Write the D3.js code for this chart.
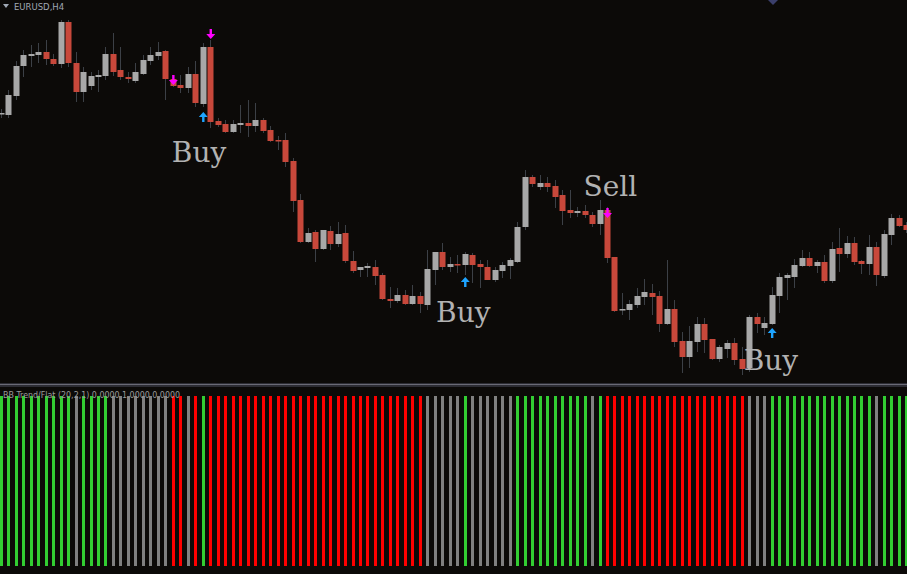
<!DOCTYPE html>
<html>
<head>
<meta charset="utf-8">
<script src="https://cdn.jsdelivr.net/npm/d3@7"></script>
<style>
  html, body { margin: 0; padding: 0; background: #0c0a08; }
  svg { display: block; }
</style>
</head>
<body>
<svg id="chart" width="907" height="574"></svg>
<script>
// EURUSD H4 candles, oldest first
var open = [1.1886,1.1885,1.1904,1.1934,1.1944,1.1945,1.1948,1.1941,1.1936,1.1978,
  1.1937,1.1908,1.1914,1.1923,1.1924,1.1946,1.1930,1.1923,1.1919,1.1926,
  1.1939,1.1944,1.1949,1.1921,1.1915,1.1912,1.1926,1.1896,1.1953,1.1879,
  1.1876,1.1868,1.1875,1.1877,1.1874,1.1880,1.1870,1.1860,1.1860,1.1839,
  1.1800,1.1758,1.1768,1.1751,1.1769,1.1756,1.1767,1.1739,1.1730,1.1732,
  1.1733,1.1725,1.1701,1.1699,1.1705,1.1696,1.1704,1.1695,1.1730,1.1748,
  1.1733,1.1736,1.1735,1.1745,1.1736,1.1733,1.1720,1.1729,1.1734,1.1738,
  1.1773,1.1823,1.1813,1.1817,1.1814,1.1805,1.1790,1.1787,1.1789,1.1785,
  1.1776,1.1790,1.1743,1.1690,1.1690,1.1695,1.1703,1.1707,1.1704,1.1676,
  1.1691,1.1659,1.1643,1.1658,1.1676,1.1661,1.1641,1.1651,1.1657,1.1641,
  1.1632,1.1683,1.1672,1.1676,1.1704,1.1722,1.1723,1.1734,1.1742,1.1734,
  1.1738,1.1719,1.1752,1.1746,1.1757,1.1739,1.1736,1.1753,1.1724,1.1765,
  1.1782,1.1775];
var high = [1.1891,1.1910,1.1939,1.1950,1.1955,1.1957,1.1960,1.1946,1.1980,1.1980,
  1.1948,1.1933,1.1928,1.1930,1.1953,1.1967,1.1953,1.1928,1.1937,1.1945,
  1.1953,1.1958,1.1950,1.1925,1.1925,1.1933,1.1939,1.1957,1.1960,1.1882,
  1.1880,1.1880,1.1895,1.1900,1.1897,1.1882,1.1874,1.1864,1.1867,1.1842,
  1.1806,1.1772,1.1770,1.1770,1.1774,1.1778,1.1775,1.1749,1.1733,1.1737,
  1.1740,1.1727,1.1713,1.1712,1.1710,1.1715,1.1708,1.1750,1.1748,1.1757,
  1.1743,1.1745,1.1748,1.1747,1.1740,1.1740,1.1733,1.1738,1.1742,1.1778,
  1.1830,1.1825,1.1825,1.1823,1.1820,1.1810,1.1810,1.1793,1.1795,1.1788,
  1.1800,1.1793,1.1743,1.1707,1.1700,1.1712,1.1721,1.1716,1.1709,1.1740,
  1.1700,1.1668,1.1674,1.1683,1.1682,1.1661,1.1655,1.1660,1.1662,1.1653,
  1.1685,1.1687,1.1683,1.1713,1.1727,1.1727,1.1741,1.1750,1.1748,1.1740,
  1.1745,1.1758,1.1772,1.1764,1.1763,1.1740,1.1765,1.1758,1.1770,1.1786,
  1.1785,1.1778];
var low = [1.1882,1.1882,1.1900,1.1923,1.1933,1.1937,1.1935,1.1934,1.1932,1.1933,
  1.1898,1.1898,1.1910,1.1908,1.1920,1.1924,1.1920,1.1917,1.1917,1.1925,
  1.1935,1.1940,1.1900,1.1913,1.1907,1.1907,1.1893,1.1893,1.1872,1.1873,
  1.1867,1.1867,1.1867,1.1863,1.1868,1.1867,1.1858,1.1850,1.1833,1.1788,
  1.1757,1.1757,1.1738,1.1750,1.1750,1.1753,1.1737,1.1727,1.1723,1.1723,
  1.1715,1.1700,1.1692,1.1697,1.1695,1.1695,1.1687,1.1690,1.1715,1.1730,
  1.1728,1.1727,1.1725,1.1717,1.1712,1.1720,1.1718,1.1722,1.1721,1.1737,
  1.1770,1.1813,1.1810,1.1808,1.1792,1.1775,1.1782,1.1783,1.1782,1.1773,
  1.1765,1.1737,1.1688,1.1685,1.1680,1.1692,1.1695,1.1685,1.1668,1.1675,
  1.1653,1.1627,1.1632,1.1648,1.1647,1.1640,1.1638,1.1642,1.1635,1.1625,
  1.1628,1.1667,1.1665,1.1675,1.1687,1.1700,1.1712,1.1733,1.1733,1.1727,
  1.1717,1.1717,1.1728,1.1742,1.1735,1.1726,1.1725,1.1714,1.1722,1.1755,
  1.1773,1.1767];
var close = [1.1887,1.1905,1.1934,1.1945,1.1946,1.1948,1.1941,1.1936,1.1978,1.1937,
  1.1908,1.1928,1.1924,1.1925,1.1946,1.1928,1.1923,1.1921,1.1928,1.1940,
  1.1945,1.1948,1.1921,1.1914,1.1912,1.1926,1.1897,1.1953,1.1878,1.1875,
  1.1868,1.1876,1.1877,1.1874,1.1880,1.1869,1.1859,1.1859,1.1838,1.1799,
  1.1758,1.1767,1.1751,1.1770,1.1756,1.1766,1.1739,1.1729,1.1733,1.1734,
  1.1724,1.1701,1.1699,1.1705,1.1696,1.1704,1.1696,1.1731,1.1748,1.1733,
  1.1736,1.1735,1.1746,1.1735,1.1733,1.1720,1.1730,1.1735,1.1740,1.1773,
  1.1823,1.1816,1.1817,1.1813,1.1803,1.1789,1.1787,1.1789,1.1785,1.1776,
  1.1790,1.1742,1.1689,1.1691,1.1696,1.1704,1.1708,1.1703,1.1676,1.1691,
  1.1658,1.1643,1.1659,1.1676,1.1660,1.1641,1.1653,1.1657,1.1640,1.1631,
  1.1683,1.1676,1.1677,1.1705,1.1723,1.1725,1.1735,1.1742,1.1734,1.1738,
  1.1719,1.1751,1.1746,1.1757,1.1738,1.1736,1.1753,1.1725,1.1766,1.1782,
  1.1774,1.1770];

// BB Trend/Flat state per bar: 1 = trend up, -1 = trend down, 0 = flat
var trend = [1,1,1,1,1,1,1,1,1,1, 0, 1,1,1,1, 0,0,0,0,0,0,0,0, -1,-1, 0, -1, 1,
  -1,-1,-1,-1,-1,-1,-1,-1,-1,-1,-1,-1,-1,-1,-1,-1,-1,-1,-1,-1,-1,-1,-1,-1,-1,-1,-1,-1,-1,
  0,0,0,0,0, 1, 0,0,0,0,0,0, 1,1,1,1,1,1,1,1,1,1, 0, 1,
  -1,-1,-1,-1,-1,-1,-1,-1,-1,-1,-1,-1,-1,-1,-1,-1,-1,-1,-1,
  0,0,0, 1,1,1,1,1,1,1,1,1,1,1,1,1,1, 0, 1,1,1,1];

// signal arrows (bar index, price of arrow tip)
var sellSignals = [{i: 23, p: 1.1915}, {i: 28, p: 1.1961}, {i: 81, p: 1.1782}];
var buySignals = [{i: 27, p: 1.1888}, {i: 62, p: 1.1723}, {i: 103, p: 1.1672}];

// text notes on the chart
var notes = [{t: "Buy", i: 23, p: 1.1838}, {t: "Buy", i: 58.3, p: 1.1678},
  {t: "Sell", i: 78, p: 1.1804}, {t: "Buy", i: 99.4, p: 1.1630}];

var width = 907, height = 574;
var svg = d3.select("#chart");

svg.append("rect")
  .attr("width", width).attr("height", height)
  .attr("fill", "#0c0a08");

var candles = d3.range(0, open.length).map(function (i) {
  return {i: i, o: open[i], h: high[i], l: low[i], c: close[i]};
});

var x = d3.scaleLinear().domain([0, 121]).range([0.7, 906.4]);
var y = d3.scaleLinear().domain([1.2000, 1.1620]).range([0, 380]);
var yInd = d3.scaleLinear().domain([0, 1]).range([566, 396]);

var bodyW = 6;

// wicks
svg.selectAll(".wick")
  .data(candles)
  .enter()
  .append("line")
  .attr("class", "wick")
  .attr("x1", function (d) { return Math.round(x(d.i)) + 0.5; })
  .attr("x2", function (d) { return Math.round(x(d.i)) + 0.5; })
  .attr("y1", function (d) { return y(d.h); })
  .attr("y2", function (d) { return y(d.l); })
  .attr("stroke", "#3c4046")
  .attr("stroke-width", 1);

// bodies
svg.selectAll(".body")
  .data(candles)
  .enter()
  .append("rect")
  .attr("class", "body")
  .attr("x", function (d) { return Math.round(x(d.i)) - bodyW / 2 + 0.5; })
  .attr("y", function (d) { return y(Math.max(d.o, d.c)); })
  .attr("width", bodyW)
  .attr("height", function (d) { return Math.max(1.5, Math.abs(y(d.o) - y(d.c))); })
  .attr("fill", function (d) { return d.c >= d.o ? "#a8a8a8" : "#c8483b"; });

// arrows
function arrowPath(dir) {
  // tip at 0,0 ; dir 1 = pointing down, -1 = pointing up
  var s = dir;
  return "M0,0 L-4.5," + (-5 * s) + " L-1.2," + (-5 * s) + " L-1.2," + (-10 * s) +
    " L1.2," + (-10 * s) + " L1.2," + (-5 * s) + " L4.5," + (-5 * s) + " Z";
}

svg.selectAll(".sellArrow")
  .data(sellSignals)
  .enter()
  .append("path")
  .attr("class", "sellArrow")
  .attr("d", arrowPath(1))
  .attr("transform", function (d) { return "translate(" + (x(d.i) + 0.5) + "," + y(d.p) + ")"; })
  .attr("fill", "#ff00ff");

svg.selectAll(".buyArrow")
  .data(buySignals)
  .enter()
  .append("path")
  .attr("class", "buyArrow")
  .attr("d", arrowPath(-1))
  .attr("transform", function (d) { return "translate(" + (x(d.i) + 0.5) + "," + y(d.p) + ")"; })
  .attr("fill", "#1ea4ff");

// notes
svg.selectAll(".note")
  .data(notes)
  .enter()
  .append("text")
  .attr("class", "note")
  .attr("x", function (d) { return x(d.i) - 1; })
  .attr("y", function (d) { return y(d.p); })
  .attr("font-family", "DejaVu Serif")
  .attr("font-size", 28)
  .attr("fill", "#b2b2b2")
  .text(function (d) { return d.t; });

// symbol title
svg.append("path")
  .attr("d", "M3,4 L9,4 L6,8 Z")
  .attr("fill", "#a0a8b4");
svg.append("text")
  .attr("x", 14).attr("y", 10)
  .attr("font-family", "DejaVu Sans")
  .attr("font-size", 8.5)
  .attr("fill", "#a0a8b4")
  .text("EURUSD,H4");

// shift marker at the top
svg.append("path")
  .attr("d", "M768,0 L778,0 L773,5 Z")
  .attr("fill", "#3b3f6b");

// separator between the windows
svg.append("rect")
  .attr("x", 0).attr("y", 383)
  .attr("width", width).attr("height", 4)
  .attr("fill", "#2c2c33");
svg.append("line")
  .attr("x1", 0).attr("x2", width)
  .attr("y1", 384.5).attr("y2", 384.5)
  .attr("stroke", "#6a6a76");

// indicator histogram
var colorOf = function (v) {
  if (v > 0) return "#32cd32";
  if (v < 0) return "#ff0000";
  return "#808080";
};

svg.selectAll(".indBar")
  .data(trend)
  .enter()
  .append("rect")
  .attr("class", "indBar")
  .attr("x", function (d, i) { return Math.round(x(i)) - 1; })
  .attr("y", yInd(1))
  .attr("width", 3)
  .attr("height", yInd(0) - yInd(1))
  .attr("fill", function (d) { return colorOf(d); });

svg.append("text")
  .attr("x", 3).attr("y", 397.5)
  .attr("font-family", "DejaVu Sans")
  .attr("font-size", 8.5)
  .attr("textLength", 177)
  .attr("lengthAdjust", "spacingAndGlyphs")
  .attr("fill", "#9a9a9a")
  .text("BB Trend/Flat (20,2,1) 0.0000 1.0000 0.0000");
</script>
</body>
</html>
